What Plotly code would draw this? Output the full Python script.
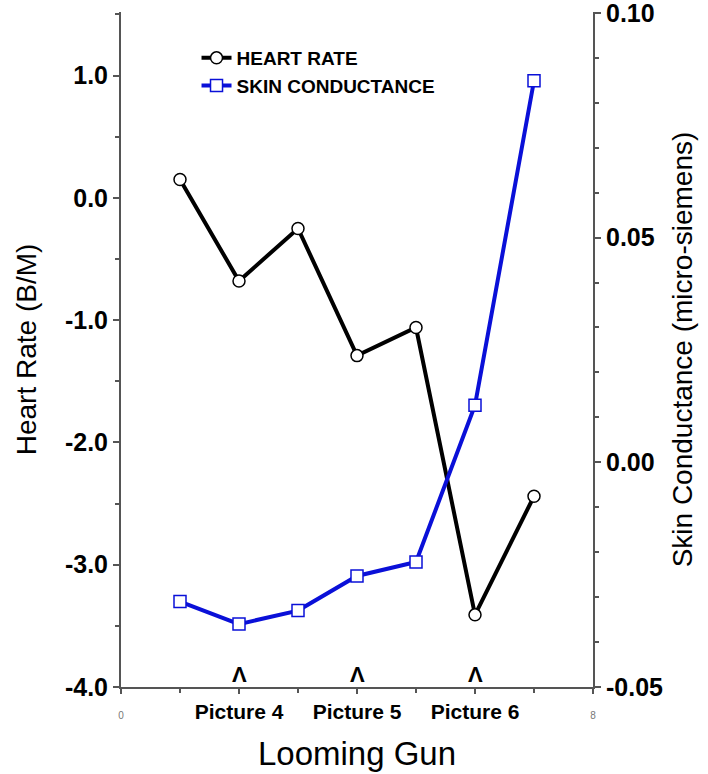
import plotly.graph_objects as go

# Time bins across the looming-gun sequence
bins = [1, 2, 3, 4, 5, 6, 7]
heart_rate = [0.15, -0.68, -0.25, -1.29, -1.06, -3.41, -2.44]
skin_conductance = [-0.031, -0.036, -0.033, -0.0253, -0.0222, 0.0127, 0.0849]

x_tick_vals = [0, 2, 4, 6, 8]
x_tick_text = ["0", "Picture 4", "Picture 5", "Picture 6", "8"]
picture_onsets = [2, 4, 6]

hr_ticks = [-4, -3, -2, -1, 0, 1]
sc_ticks = [-0.05, 0.0, 0.05, 0.10]

FONT = "Liberation Sans, Arial, Helvetica, sans-serif"
AXIS_COLOR = "#555555"
BLUE = "#0a10d8"


def small(s):
    return f"<span style='font-size:10px;font-weight:normal;fill:#777'>{s}</span>"


x_labels = [small(t) if t in ("0", "8") else t for t in x_tick_text]
# plain hyphen-minus labels
hr_labels = [f"{v:.1f}" for v in hr_ticks]
sc_labels = [f"{v:.2f}" for v in sc_ticks]

fig = go.Figure()
fig.add_trace(go.Scatter(
    x=bins, y=heart_rate, name="HEART RATE", mode="lines+markers",
    line=dict(color="black", width=4),
    marker=dict(symbol="circle", size=12, color="white",
                line=dict(color="black", width=1.5)),
))
fig.add_trace(go.Scatter(
    x=bins, y=skin_conductance, name="SKIN CONDUCTANCE", mode="lines+markers",
    yaxis="y2",
    line=dict(color=BLUE, width=4),
    marker=dict(symbol="square", size=12, color="white",
                line=dict(color=BLUE, width=1.5)),
))

# onset markers above each picture tick
for p in picture_onsets:
    fig.add_annotation(x=p, y=-3.9, xref="x", yref="y", text="\u039b",
                       showarrow=False,
                       font=dict(family=FONT, size=22, color="black", weight="bold"))

fig.update_layout(
    width=708, height=774,
    margin=dict(l=121, r=115, t=12, b=87),
    paper_bgcolor="white", plot_bgcolor="white",
    font=dict(family=FONT, color="black"),
    showlegend=True,
    legend=dict(x=0.16, y=0.96, xanchor="left", yanchor="top",
                bgcolor="rgba(0,0,0,0)", tracegroupgap=0,
                font=dict(family=FONT, size=19, color="black", weight="bold")),
    xaxis=dict(
        range=[0, 8], tickvals=x_tick_vals, ticktext=x_labels, automargin=False,
        showline=True, linecolor=AXIS_COLOR, linewidth=2,
        ticks="outside", ticklen=5, tickcolor=AXIS_COLOR, tickwidth=1.5,
        minor=dict(dtick=1, ticks="outside", ticklen=4, tickcolor=AXIS_COLOR),
        showgrid=False, zeroline=False,
        tickfont=dict(family=FONT, size=21, color="black", weight="bold"),
        title=dict(text="Looming Gun", standoff=20,
                   font=dict(family=FONT, size=33, color="black")),
    ),
    yaxis=dict(
        range=[-4, 1.52], tickvals=hr_ticks, ticktext=hr_labels, automargin=False,
        showline=True, linecolor=AXIS_COLOR, linewidth=2,
        ticks="outside", ticklen=6, tickcolor=AXIS_COLOR, tickwidth=1.5,
        minor=dict(dtick=0.5, ticks="outside", ticklen=4, tickcolor=AXIS_COLOR),
        showgrid=False, zeroline=False,
        tickfont=dict(family=FONT, size=25, color="black", weight="bold"),
        title=dict(text="Heart Rate (B/M)", standoff=20,
                   font=dict(family=FONT, size=28, color="black")),
    ),
    yaxis2=dict(
        range=[-0.05, 0.1002], tickvals=sc_ticks, ticktext=sc_labels,
        overlaying="y", side="right", ticklabeloverflow="allow", automargin=False,
        showline=True, linecolor=AXIS_COLOR, linewidth=2,
        ticks="outside", ticklen=6, tickcolor=AXIS_COLOR, tickwidth=1.5,
        minor=dict(dtick=0.01, ticks="outside", ticklen=4, tickcolor=AXIS_COLOR),
        showgrid=False, zeroline=False,
        tickfont=dict(family=FONT, size=25, color="black", weight="bold"),
        title=dict(text="Skin Conductance (micro-siemens)", standoff=10,
                   font=dict(family=FONT, size=28, color="black")),
    ),
)

fig.write_html("out.html")
